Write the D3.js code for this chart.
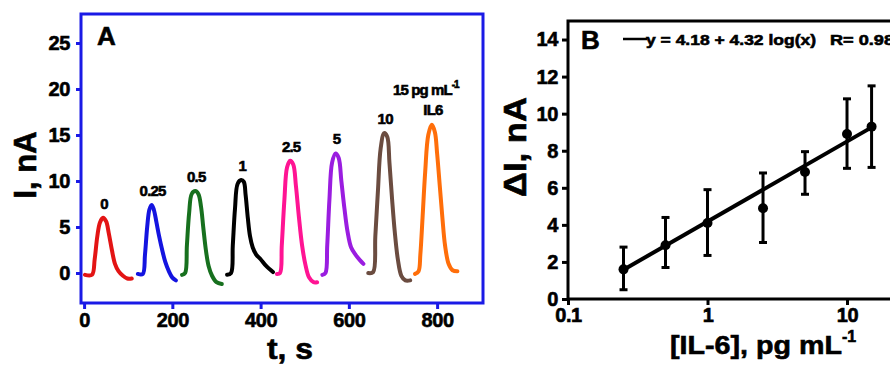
<!DOCTYPE html>
<html>
<head>
<meta charset="utf-8">
<script src="https://cdn.jsdelivr.net/npm/d3@7"></script>
<style>
  body { margin: 0; background: #fff; }
  svg text { font-family: "Liberation Sans", Arial, sans-serif; font-weight: bold; stroke: #000; stroke-width: 0.6px; }
</style>
</head>
<body>
<svg id="vis" width="890" height="366"></svg>
<script>
// panel A: amperometric peaks, one array of [t (s), I (nA)] per concentration
const peakLabels = ["0", "0.25", "0.5", "1", "2.5", "5", "10"];
const peakColors = ["#e31414", "#1414e0", "#17701e", "#000000", "#ff1493", "#9a1de0", "#6b4c40", "#ff6e0a"];
const peak0 = [[2,-0.2],[18,-0.2],[24,1.5],[30,4.0],[36,5.5],[43,6.0],[50,5.6],[56,4.3],[63,2.5],[70,1.0],[78,0.2],[88,-0.3],[98,-0.6],[108,-0.6]];
const peak025 = [[122,-0.1],[133,-0.1],[138,2],[143,5],[148,6.9],[153,7.4],[158,6.9],[164,5.5],[170,4.0],[177,2.5],[184,1.2],[192,0.2],[200,-0.5],[208,-0.8]];
const peak05 = [[222,-0.2],[229,0],[233,3],[238,6.5],[244,8.6],[252,8.9],[259,8.6],[265,7.2],[270,5],[276,2.5],[282,0.8],[290,-0.3],[300,-1.0],[312,-1.2]];
const peak1 = [[324,-0.2],[333,0],[337,3],[342,7],[348,9.7],[356,10.1],[362,9.9],[366,8.5],[371,6],[376,4],[382,2.8],[390,2.0],[400,1.5],[412,0.8],[428,0.1]];
const peak25 = [[437,-0.1],[444,0],[448,3],[454,8],[460,11.5],[467,12.2],[474,11.8],[480,9.5],[487,6.0],[494,3.0],[502,0.8],[510,-0.5],[520,-1.0],[528,-1.0]];
const peak5 = [[540,-0.2],[547,0],[551,3],[556,8],[562,12],[570,13.0],[577,12.5],[583,10],[590,7],[597,4.5],[605,2.8],[615,2.0],[625,1.4],[633,1.0]];
const peak10 = [[644,0],[655,0.1],[660,4],[666,9],[672,13.5],[680,15.2],[687,14.8],[692,12],[698,8],[704,4.5],[711,1.5],[719,-0.3],[728,-0.8],[739,-0.8]];
const peak15 = [[750,-0.1],[758,0.2],[762,2],[767,6],[773,11],[780,15],[788,16.1],[795,15.3],[800,13],[806,9.5],[812,6],[818,3],[826,1],[835,0.3],[846,0.2]];
const peaks = [peak0, peak025, peak05, peak1, peak25, peak5, peak10, peak15];
const tTicks = [0, 200, 400, 600, 800];
const iTicks = [0, 5, 10, 15, 20, 25];

// panel B: calibration
const conc = [0.25, 0.5, 1, 2.5, 5, 10, 15];
const deltaI = [1.6, 2.9, 4.1, 4.9, 6.85, 8.9, 9.3];
const errLow = [0.5, 1.7, 2.35, 3.05, 5.65, 7.05, 7.1];
const errHigh = [2.8, 4.4, 5.9, 6.8, 7.95, 10.8, 11.5];
const fitA = 4.18, fitB = 4.32;
const concTicks = [0.1, 1, 10];
const dITicks = [0, 2, 4, 6, 8, 10, 12, 14];

function styleTicks(g, color) {
    g.select(".domain").remove();
    g.selectAll("line").attr("stroke", color).attr("stroke-width", 3);
    g.selectAll("text")
        .attr("fill", "#000")
        .attr("font-size", 20)
        .attr("font-family", "Liberation Sans, Arial, sans-serif")
        .attr("font-weight", "bold")
        .attr("letter-spacing", -0.4);
}

function panelA(svg) {
    const blue = "#1a1ae6";
    let x = d3.scaleLinear().domain([-7, 904]).range([81, 483]);
    let y = d3.scaleLinear().domain([-3.26, 28.15]).range([303, 14]);

    let line = d3.line()
        .x(d => x(d[0]))
        .y(d => y(d[1]))
        .curve(d3.curveCatmullRom);

    svg.selectAll(".peak")
        .data(peaks)
        .enter().append("path")
            .attr("class", "peak")
            .attr("d", line)
            .attr("fill", "none")
            .attr("stroke", (d, i) => peakColors[i])
            .attr("stroke-width", 4)
            .attr("stroke-linecap", "round")
            .attr("stroke-linejoin", "round");

    // labels above each peak
    peaks.slice(0, 7).forEach((p, i) => {
        let top = p.reduce((a, b) => b[1] > a[1] ? b : a);
        svg.append("text")
            .attr("x", x(top[0]) + 1)
            .attr("y", y(top[1]) - 9)
            .attr("text-anchor", "middle")
            .attr("font-size", 15)
            .attr("letter-spacing", -0.8)
            .text(peakLabels[i]);
    });
    let t15 = svg.append("text")
        .attr("x", 393)
        .attr("y", 95)
        .attr("font-size", 15)
        .attr("letter-spacing", -0.9);
    t15.append("tspan").text("15 pg mL");
    t15.append("tspan").attr("dy", -7).attr("font-size", 10).text("-1");
    svg.append("text")
        .attr("x", 433)
        .attr("y", 115)
        .attr("text-anchor", "middle")
        .attr("font-size", 15)
        .attr("letter-spacing", -0.8)
        .text("IL6");

    // frame
    svg.append("rect")
        .attr("x", 81).attr("y", 14)
        .attr("width", 402).attr("height", 289)
        .attr("fill", "none")
        .attr("stroke", blue)
        .attr("stroke-width", 3);

    let gx = svg.append("g")
        .attr("transform", "translate(0, 303)")
        .call(d3.axisBottom(x).tickValues(tTicks).tickSize(6).tickPadding(4).tickSizeOuter(0));
    let gy = svg.append("g")
        .attr("transform", "translate(81, 0)")
        .call(d3.axisLeft(y).tickValues(iTicks).tickSize(5).tickPadding(6).tickSizeOuter(0));
    styleTicks(gx, blue);
    styleTicks(gy, blue);

    svg.append("text")
        .attr("x", 97).attr("y", 45)
        .attr("font-size", 26)
        .text("A");

    svg.append("text")
        .attr("transform", "translate(36, 165) rotate(-90)")
        .attr("text-anchor", "middle")
        .attr("font-size", 31)
        .text("I, nA");
    svg.append("text")
        .attr("x", 290).attr("y", 359)
        .attr("text-anchor", "middle")
        .attr("font-size", 29)
        .attr("textLength", 46)
        .attr("lengthAdjust", "spacingAndGlyphs")
        .text("t, s");
}

function panelB(svg) {
    let x = d3.scaleLog().domain([0.1, 23.2]).range([568, 898]);
    let y = d3.scaleLinear().domain([0, 15]).range([299, 21]);

    // frame (right side runs past the picture)
    svg.append("path")
        .attr("d", `M 900 ${y(15)} H ${x(0.1)} V ${y(0)} H 900`)
        .attr("fill", "none")
        .attr("stroke", "#000")
        .attr("stroke-width", 3);

    let gx = svg.append("g")
        .attr("transform", `translate(0, ${y(0)})`)
        .call(d3.axisBottom(x).tickValues(concTicks).tickFormat(d => String(d)).tickSize(6).tickPadding(3).tickSizeOuter(0));
    let gy = svg.append("g")
        .attr("transform", `translate(${x(0.1)}, 0)`)
        .call(d3.axisLeft(y).tickValues(dITicks).tickSize(6).tickPadding(4).tickSizeOuter(0));
    styleTicks(gx, "#000");
    styleTicks(gy, "#000");

    // regression line over the measured range
    let c0 = d3.min(conc), c1 = d3.max(conc);
    svg.append("line")
        .attr("x1", x(c0)).attr("y1", y(fitA + fitB * Math.log10(c0)))
        .attr("x2", x(c1)).attr("y2", y(fitA + fitB * Math.log10(c1)))
        .attr("stroke", "#000")
        .attr("stroke-width", 4);

    let pts = conc.map((c, i) => ({c: c, v: deltaI[i], lo: errLow[i], hi: errHigh[i]}));
    let g = svg.append("g");
    g.selectAll(".err")
        .data(pts)
        .enter().append("line")
            .attr("x1", d => x(d.c)).attr("x2", d => x(d.c))
            .attr("y1", d => y(d.lo)).attr("y2", d => y(d.hi))
            .attr("stroke", "#000").attr("stroke-width", 3);
    ["lo", "hi"].forEach(k => {
        g.selectAll(".cap" + k)
            .data(pts)
            .enter().append("line")
                .attr("x1", d => x(d.c) - 4).attr("x2", d => x(d.c) + 4)
                .attr("y1", d => y(d[k])).attr("y2", d => y(d[k]))
                .attr("stroke", "#000").attr("stroke-width", 3);
    });
    g.selectAll(".pt")
        .data(pts)
        .enter().append("circle")
            .attr("cx", d => x(d.c))
            .attr("cy", d => y(d.v))
            .attr("r", 5)
            .attr("fill", "#000");

    svg.append("text")
        .attr("x", 581).attr("y", 49)
        .attr("font-size", 26)
        .text("B");

    // legend
    svg.append("line")
        .attr("x1", 623).attr("x2", 647)
        .attr("y1", 39).attr("y2", 39)
        .attr("stroke", "#000").attr("stroke-width", 2.5);
    svg.append("text")
        .attr("x", 646).attr("y", 45)
        .attr("font-size", 15)
        .attr("textLength", 170)
        .attr("lengthAdjust", "spacingAndGlyphs")
        .text("y = 4.18 + 4.32 log(x)");
    svg.append("text")
        .attr("x", 830).attr("y", 45)
        .attr("font-size", 15)
        .attr("textLength", 64)
        .attr("lengthAdjust", "spacingAndGlyphs")
        .text("R= 0.98");

    svg.append("text")
        .attr("transform", "translate(526, 147) rotate(-90)")
        .attr("text-anchor", "middle")
        .attr("font-size", 31)
        .attr("textLength", 100)
        .attr("lengthAdjust", "spacingAndGlyphs")
        .text("ΔI, nA");

    let xt = svg.append("text")
        .attr("x", 670).attr("y", 354)
        .attr("font-size", 26);
    xt.append("tspan")
        .attr("textLength", 172)
        .attr("lengthAdjust", "spacingAndGlyphs")
        .text("[IL-6], pg mL");
    xt.append("tspan").attr("dy", -12).attr("font-size", 16).text("-1");
}

document.addEventListener('DOMContentLoaded', () => {
    let svg = d3.select("#vis");
    panelA(svg);
    panelB(svg);
});
</script>
</body>
</html>
